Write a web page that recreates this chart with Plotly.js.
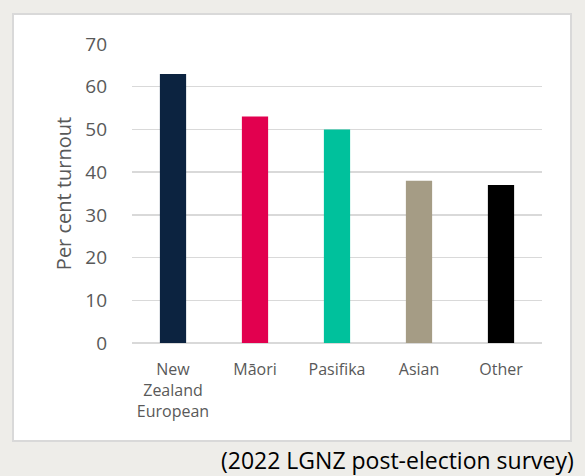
<!DOCTYPE html>
<html>
<head>
<meta charset="utf-8">
<script src="https://cdn.plot.ly/plotly-3.0.1.min.js"></script>
<style>html,body{margin:0;padding:0;background:#eeede9;}#chart{width:585px;height:476px;}</style>
</head>
<body>
<div id="chart"></div>
<script>
const categories = ["New<br>Zealand<br>European", "Māori", "Pasifika", "Asian", "Other"];
const turnout = [63, 53, 50, 38, 37];
const barColors = ["#0c2340", "#e2004f", "#00c19c", "#a59c85", "#000000"];
const yTicks = [0, 10, 20, 30, 40, 50, 60, 70];
const sourceNote = "(2022 LGNZ post-election survey)";
const yTitle = "Per cent turnout";

const W = 585, H = 476;
const mL = 132, mR = 43, mT = 44, mB = 133;
const pw = W - mL - mR, ph = H - mT - mB;
const px = v => (v - mL) / pw;
const py = v => (H - mB - v) / ph;

const trace = {
  type: "bar",
  x: categories,
  y: turnout,
  marker: { color: barColors },
  hoverinfo: "skip"
};

const layout = {
  width: W, height: H,
  margin: { l: mL, r: mR, t: mT, b: mB, pad: 0 },
  paper_bgcolor: "#eeede9",
  plot_bgcolor: "rgba(0,0,0,0)",
  bargap: 0.68,
  showlegend: false,
  font: { family: "Open Sans, sans-serif", color: "#595959" },
  xaxis: {
    showgrid: false, zeroline: false, showline: false,
    ticks: "", tickfont: { size: 16, color: "#595959" },
    ticklabelstandoff: 15, fixedrange: true
  },
  yaxis: {
    range: [0, 70], tickvals: yTicks, showgrid: true,
    gridcolor: "#d9d9d9", gridwidth: 1.5, zeroline: true,
    zerolinecolor: "#d9d9d9", zerolinewidth: 1.5, showline: false,
    ticks: "", tickfont: { size: 19, color: "#595959" },
    ticklabelstandoff: 24,
    title: { text: yTitle, font: { size: 20, color: "#595959" }, standoff: 8 },
    fixedrange: true
  },
  shapes: [{
    type: "rect", xref: "paper", yref: "paper", layer: "below",
    x0: px(13), x1: px(571), y0: py(441), y1: py(14),
    fillcolor: "#ffffff", line: { color: "#d9d9d9", width: 2 }
  }],
  annotations: [{
    text: sourceNote, xref: "paper", yref: "paper",
    x: px(576), y: py(460), xanchor: "right", yanchor: "middle",
    showarrow: false, font: { size: 23, color: "#000000" }
  }]
};

Plotly.newPlot("chart", [trace], layout, { displayModeBar: false, staticPlot: true });
</script>
</body>
</html>
